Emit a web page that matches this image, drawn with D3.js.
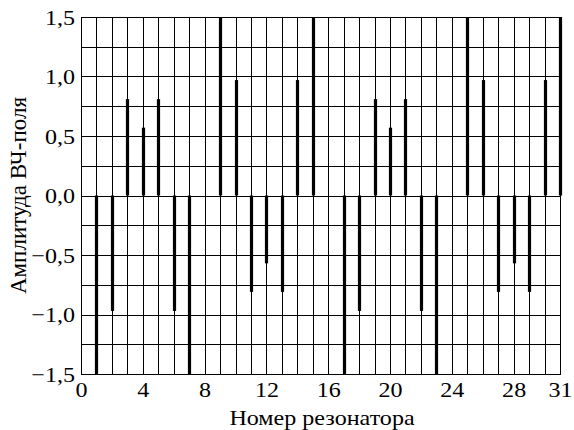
<!DOCTYPE html>
<html>
<head>
<meta charset="utf-8">
<script src="https://cdn.jsdelivr.net/npm/d3@7"></script>
</head>
<body style="margin:0;background:#fff">
<svg id="chart" width="574" height="430" font-family="Liberation Serif"></svg>
<script>
// Resonator numbers and RF field amplitude in each resonator
const resonators = d3.range(1, 32);
const amplitudes = [
  -1.5, -0.97, 0.81, 0.57, 0.81, -0.97, -1.5, 0,
   1.5,  0.97, -0.81, -0.57, -0.81, 0.97, 1.5, 0,
  -1.5, -0.97, 0.81, 0.57, 0.81, -0.97, -1.5, 0,
   1.5,  0.97, -0.81, -0.57, -0.81, 0.97, 1.5
];
const xTicks = [0, 4, 8, 12, 16, 20, 24, 28, 31];
const yTicks = [-1.5, -1.0, -0.5, 0.0, 0.5, 1.0, 1.5];
const yGrid = d3.range(-1.5, 1.5001, 0.25);
const xGrid = d3.range(0, 32);

const svg = d3.select("#chart");
const plotLeft = 81, plotRight = 560, plotTop = 17, plotBottom = 374;
const fontSize = 21.5, widen = 1.12;

const x = d3.scaleLinear().domain([0, 31]).range([plotLeft, plotRight]);
const y = d3.scaleLinear().domain([-1.5, 1.5]).range([plotBottom, plotTop]);

const fmt = v => (v < 0 ? "\u2212" : "") + Math.abs(v).toFixed(1).replace(".", ",");

// grid
const grid = svg.append("g").attr("stroke", "#000").attr("stroke-width", 1).attr("shape-rendering", "crispEdges");
grid.selectAll("line.v").data(xGrid).join("line")
  .attr("class", "v")
  .attr("x1", d => Math.round(x(d)) + 0.5).attr("x2", d => Math.round(x(d)) + 0.5)
  .attr("y1", plotTop).attr("y2", plotBottom);
grid.selectAll("line.h").data(yGrid).join("line")
  .attr("class", "h")
  .attr("x1", plotLeft).attr("x2", plotRight + 1)
  .attr("y1", d => Math.round(y(d)) + 0.5).attr("y2", d => Math.round(y(d)) + 0.5);

// amplitude bars
svg.append("g").selectAll("line").data(resonators.map((r, i) => [r, amplitudes[i]]).filter(d => d[1] !== 0))
  .join("line")
  .attr("x1", d => Math.round(x(d[0])) + 0.5).attr("x2", d => Math.round(x(d[0])) + 0.5)
  .attr("y1", y(0)).attr("y2", d => y(d[1]))
  .attr("stroke", "#000").attr("stroke-width", 3.2);

// axes
const yAxis = svg.append("g").attr("transform", `translate(${plotLeft},0)`)
  .call(d3.axisLeft(y).tickValues(yTicks).tickFormat(fmt).tickSize(0).tickPadding(6));
yAxis.attr("font-family", "Liberation Serif").attr("font-size", fontSize);
yAxis.select(".domain").remove();
yAxis.selectAll("text")
  .attr("fill", "#000")
  .attr("x", -6 / widen).attr("dy", "0.34em")
  .attr("transform", `scale(${widen},1)`);

const xAxis = svg.append("g").attr("transform", `translate(0,${plotBottom})`)
  .call(d3.axisBottom(x).tickValues(xTicks).tickFormat(d3.format("d")).tickSize(0));
xAxis.attr("font-family", "Liberation Serif").attr("font-size", fontSize);
xAxis.select(".domain").remove();
xAxis.selectAll("text")
  .attr("fill", "#000")
  .attr("y", 23.5).attr("dy", 0)
  .attr("transform", `scale(${widen},1)`);

svg.append("text")
  .attr("transform", `translate(322,425) scale(${widen},1)`)
  .attr("text-anchor", "middle")
  .attr("font-size", fontSize)
  .text("Номер резонатора");

svg.append("text")
  .attr("transform", `translate(26,${(plotTop + plotBottom) / 2}) rotate(-90)`)
  .attr("text-anchor", "middle")
  .attr("font-size", 23)
  .text("Амплитуда ВЧ-поля");
</script>
</body>
</html>
